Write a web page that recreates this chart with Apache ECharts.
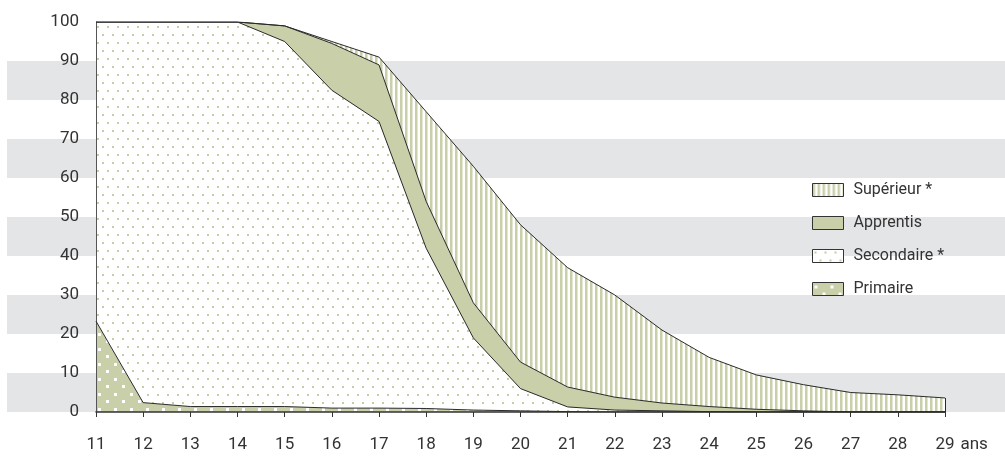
<!DOCTYPE html>
<html>
<head>
<meta charset="utf-8">
<script src="https://cdn.jsdelivr.net/npm/echarts@6/dist/echarts.min.js"></script>
<style>
  html, body { margin: 0; padding: 0; background: #fff; }
  #chart { width: 1005px; height: 461px; }
</style>
</head>
<body>
<div id="chart"></div>
<script>
// ages (x axis categories)
const ages = ["11", "12", "13", "14", "15", "16", "17", "18", "19", "20",
  "21", "22", "23", "24", "25", "26", "27", "28", "29"];

// share of each age group by schooling level (%), stacked bottom to top
const primaire = [23.3, 2.4, 1.4, 1.4, 1.4, 1.0, 1.0, 0.9, 0.5, 0.3, 0.1, 0, 0, 0, 0, 0, 0, 0, 0];
const secondaire = [76.7, 97.6, 98.6, 98.6, 93.6, 81.5, 73.5, 41.1, 18.5, 5.7, 1.2, 0.5, 0.3, 0.1, 0, 0, 0, 0, 0];
const apprentis = [0, 0, 0, 0, 4.0, 12.0, 14.5, 12.0, 9.0, 6.8, 5.1, 3.3, 2.0, 1.3, 0.7, 0.3, 0, 0, 0];
const superieur = [0, 0, 0, 0, 0, 0.5, 2.0, 23.0, 35.0, 35.2, 30.6, 26.2, 18.7, 12.6, 8.8, 6.7, 5.0, 4.4, 3.6];

const GREEN = "#c8cfa9";
const FONT = "Roboto, sans-serif";

// small canvas tiles used as repeating fills
function makeTile(w, h, draw) {
  const c = document.createElement("canvas");
  c.width = w;
  c.height = h;
  draw(c.getContext("2d"));
  return { image: c, repeat: "repeat" };
}

const fillPrimaire = makeTile(16, 15, g => {
  g.fillStyle = GREEN;
  g.fillRect(0, 0, 16, 15);
  g.fillStyle = "#fff";
  g.fillRect(2, 3, 3, 3);
  g.fillRect(10, 10, 3, 3);
});

const fillSecondaire = makeTile(10, 16, g => {
  g.fillStyle = "#fff";
  g.fillRect(0, 0, 10, 16);
  g.fillStyle = "#c5cca6";
  g.fillRect(2, 2, 2, 2);
  g.fillRect(7, 10, 2, 2);
});

const fillSuperieur = makeTile(5, 4, g => {
  g.fillStyle = "#fff";
  g.fillRect(0, 0, 5, 4);
  g.fillStyle = GREEN;
  g.fillRect(0, 0, 2, 4);
  g.fillStyle = "#e2e6d3";
  g.fillRect(2, 0, 1, 4);
});

function areaSeries(name, data, fill) {
  return {
    name: name,
    type: "line",
    stack: "total",
    data: data,
    symbol: "none",
    xAxisIndex: 0,
    yAxisIndex: 0,
    lineStyle: { color: "#2a2a2a", width: 1 },
    itemStyle: { color: fill },
    areaStyle: { color: fill, opacity: 1 },
    emphasis: { disabled: true },
    animation: false
  };
}

const last = ages.length - 1;
const lastTotal = primaire[last] + secondaire[last] + apprentis[last] + superieur[last];

const series = [
  areaSeries("Primaire", primaire, fillPrimaire),
  areaSeries("Secondaire *", secondaire, fillSecondaire),
  areaSeries("Apprentis", apprentis, GREEN),
  areaSeries("Supérieur *", superieur, fillSuperieur)
];
// closing edge of the stack at the last age
series[3].markLine = {
  silent: true,
  symbol: "none",
  label: { show: false },
  lineStyle: { color: "#2a2a2a", width: 1, type: "solid" },
  data: [[{ xAxis: ages[last], yAxis: 0 }, { xAxis: ages[last], yAxis: lastTotal }]]
};

const chart = echarts.init(document.getElementById("chart"));

chart.setOption({
  animation: false,
  grid: [
    { left: 96, right: 60, top: 22, bottom: 49 },
    // wide grid only used for the grey background bands
    { left: 7, right: 0, top: 22, bottom: 49 }
  ],
  xAxis: [
    {
      type: "category",
      gridIndex: 0,
      data: ages,
      boundaryGap: false,
      z: 3,
      name: "ans",
      nameLocation: "end",
      nameGap: 13,
      nameTextStyle: {
        fontFamily: FONT, fontSize: 17, color: "#333",
        verticalAlign: "top", lineHeight: 17, padding: [24, 0, 0, 0]
      },
      axisLine: { lineStyle: { color: "#333", width: 1.5 } },
      axisTick: { show: true, length: 5, alignWithLabel: true, lineStyle: { color: "#333" } },
      axisLabel: { fontFamily: FONT, fontSize: 17, color: "#333", margin: 24 },
      splitLine: { show: false }
    },
    { type: "value", gridIndex: 1, show: false, min: 0, max: 1 }
  ],
  yAxis: [
    {
      type: "value",
      gridIndex: 0,
      min: 0,
      max: 100,
      interval: 10,
      z: 3,
      axisLine: { show: true, lineStyle: { color: "#555", width: 1 } },
      axisTick: { show: false },
      axisLabel: { fontFamily: FONT, fontSize: 17, color: "#333", margin: 17 },
      splitLine: { show: false }
    },
    {
      type: "value",
      gridIndex: 1,
      min: 0,
      max: 100,
      interval: 10,
      z: 0,
      axisLine: { show: false },
      axisTick: { show: false },
      axisLabel: { show: false },
      splitLine: { show: false },
      splitArea: { show: true, areaStyle: { color: ["#e4e5e7", "rgba(255,255,255,0)"] } }
    }
  ],
  legend: {
    orient: "vertical",
    left: 812,
    top: 182,
    padding: 0,
    icon: "rect",
    itemWidth: 31,
    itemHeight: 13,
    itemGap: 17,
    textStyle: { fontFamily: FONT, fontSize: 16, lineHeight: 16, color: "#333", padding: [0, 0, 0, 5] },
    selectedMode: false,
    data: [
      { name: "Supérieur *", itemStyle: { color: fillSuperieur, borderColor: "#333", borderWidth: 1 } },
      { name: "Apprentis", itemStyle: { color: GREEN, borderColor: "#333", borderWidth: 1 } },
      { name: "Secondaire *", itemStyle: { color: fillSecondaire, borderColor: "#333", borderWidth: 1 } },
      { name: "Primaire", itemStyle: { color: fillPrimaire, borderColor: "#333", borderWidth: 1 } }
    ]
  },
  series: series
});
</script>
</body>
</html>
